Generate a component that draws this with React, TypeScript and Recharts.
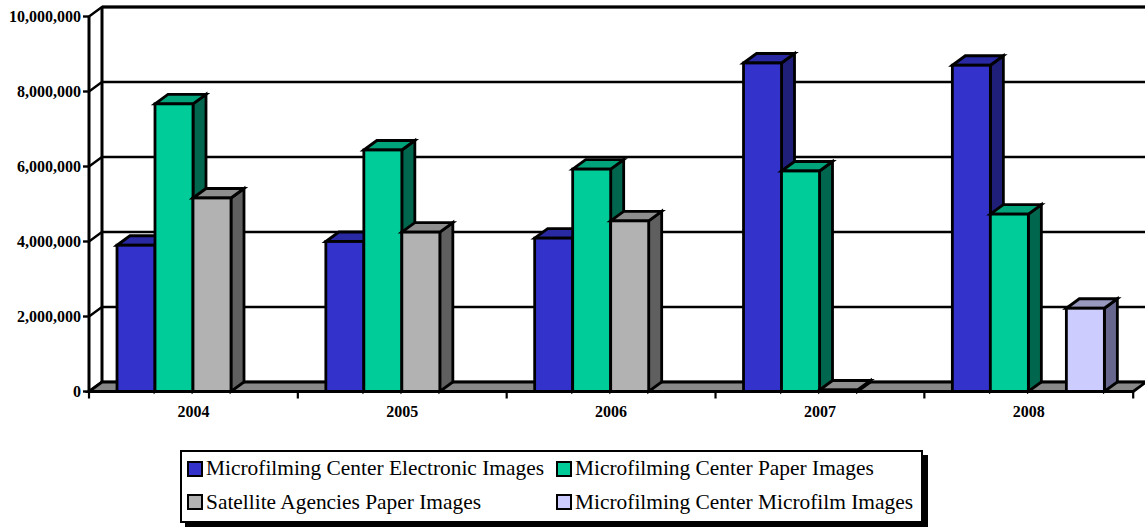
import { BarChart, Bar, XAxis, YAxis, CartesianGrid, Legend, ReferenceArea } from 'recharts';

const years = ['2004', '2005', '2006', '2007', '2008'];
const electronicImages = [3900000, 4000000, 4090000, 8760000, 8700000];
const paperImages = [7670000, 6440000, 5930000, 5880000, 4730000];
const satelliteImages = [5160000, 4250000, 4550000, 40000, null];
const microfilmImages = [null, null, null, null, 2220000];
const yTicks = [0, 2000000, 4000000, 6000000, 8000000, 10000000];

const data = years.map((year, i) => ({
  year,
  electronic: electronicImages[i],
  paper: paperImages[i],
  satellite: satelliteImages[i],
  microfilm: microfilmImages[i],
}));

const WIDTH = 1145;
const HEIGHT = 527;
const LEFT = 89;
const RIGHT = 11.8;
const DX = 13;
const DY = 9.5;
const FONT = '"Liberation Serif", "Times New Roman", serif';
const BAND = (WIDTH - LEFT - RIGHT) / years.length;

// top and side faces of each series
const faces: Record<string, { top: string; side: string }> = {
  '#3333CC': { top: '#2929A3', side: '#1F1F7A' },
  '#00CC99': { top: '#00A37A', side: '#00664D' },
  '#B2B2B2': { top: '#8E8E8E', side: '#5F5F5F' },
  '#CCCCFF': { top: '#9999BF', side: '#66668F' },
};

function Box(props: any) {
  const { x, y, width, height, fill, value } = props;
  const raw = Array.isArray(value) ? value[1] : value;
  if (raw === null || raw === undefined) return null;
  const f = faces[fill];
  return (
    <g stroke="#000" strokeWidth={2.8} strokeLinejoin="miter">
      <path d={`M${x + width},${y} l${DX},${-DY} v${height} l${-DX},${DY} z`} fill={f.side} />
      <path d={`M${x},${y} l${DX},${-DY} h${width} l${-DX},${DY} z`} fill={f.top} />
      <rect x={x} y={y} width={width} height={height} fill={fill} />
    </g>
  );
}

function Walls(props: any) {
  const { x, y, width, height } = props;
  const bottom = y + height;
  return (
    <g stroke="#000">
      <path d={`M${x},${bottom} l${DX},${-DY} H${x + width + DX} l${-DX},${DY} z`} fill="#888888" strokeWidth={2.8} />
      <path d={`M${x + DX},${y - DY} V${bottom - DY}`} strokeWidth={3} fill="none" />
      <path d={`M${x + DX},${y - DY} H${WIDTH}`} strokeWidth={3} fill="none" />
    </g>
  );
}

function BackLine(props: any) {
  const { x1, y1 } = props;
  return (
    <path d={`M${x1},${y1} l${DX},${-DY} H${WIDTH}`} stroke="#000" strokeWidth={2.3} fill="none" />
  );
}

function YearTick(props: any) {
  const { x, y, index, payload } = props;
  const left = x - BAND / 2;
  return (
    <g>
      <line x1={left} y1={y - 8} x2={left} y2={y - 1} stroke="#000" strokeWidth={2.2} />
      {index === years.length - 1 && (
        <line x1={left + BAND} y1={y - 8} x2={left + BAND} y2={y - 1} stroke="#000" strokeWidth={2.2} />
      )}
      <text x={x} y={y + 17} textAnchor="middle" fontFamily={FONT} fontWeight="bold" fontSize={16} fill="#000">
        {payload.value}
      </text>
    </g>
  );
}

function LegendBox({ payload }: any) {
  const items = payload || [];
  return (
    <div
      style={{
        width: 743,
        height: 73,
        boxSizing: 'border-box',
        border: '2px solid #000',
        background: '#fff',
        boxShadow: '5px 5px 0 #000',
        display: 'grid',
        gridTemplateColumns: '369px auto',
        gridAutoRows: '33.5px',
        paddingTop: 0,
        paddingLeft: 5,
        fontFamily: FONT,
        fontSize: 21.4,
        color: '#000',
      }}
    >
      {items.map((item: any) => (
        <div key={item.value} style={{ display: 'flex', alignItems: 'center', whiteSpace: 'nowrap' }}>
          <span
            style={{
              width: 16,
              height: 16,
              boxSizing: 'border-box',
              border: '2.6px solid #000',
              background: item.color,
              marginRight: 3,
            }}
          />
          {item.value}
        </div>
      ))}
    </div>
  );
}

export default function App() {
  return (
    <div style={{ position: 'absolute', left: 0, top: 0, width: WIDTH, height: HEIGHT, background: '#fff' }}>
      <BarChart
        width={WIDTH}
        height={HEIGHT}
        data={data}
        margin={{ top: 16.5, right: RIGHT, left: 0, bottom: 0 }}
        barSize={38}
        barGap={0}
        style={{ overflow: 'visible' }}
      >
        <CartesianGrid vertical={false} horizontal={(p: any) => <BackLine key={p.key} {...p} />} />
        <ReferenceArea y1={0} y2={10000000} ifOverflow="visible" shape={<Walls />} />
        <XAxis
          dataKey="year"
          height={135.5}
          axisLine={{ stroke: '#000', strokeWidth: 3 }}
          tickLine={false}
          tick={<YearTick />}
          interval={0}
        />
        <YAxis
          width={LEFT}
          domain={[0, 10000000]}
          ticks={yTicks}
          interval={0}
          tickFormatter={(value) => Number(value).toLocaleString('en-US')}
          axisLine={{ stroke: '#000', strokeWidth: 3 }}
          tickLine={{ stroke: '#000', strokeWidth: 2.4 }}
          tickSize={6}
          tickMargin={2}
          tick={{ fill: '#000', fontFamily: FONT, fontWeight: 'bold', fontSize: 16 }}
        />
        <Legend
          layout="horizontal"
          verticalAlign="middle"
          align="center"
          itemSorter={null}
          content={<LegendBox />}
          wrapperStyle={{ position: 'absolute', left: 180, top: 450, width: 743 }}
        />
        <Bar dataKey="electronic" name="Microfilming Center Electronic Images" fill="#3333CC" shape={<Box />} isAnimationActive={false} />
        <Bar dataKey="paper" name="Microfilming Center Paper Images" fill="#00CC99" shape={<Box />} isAnimationActive={false} />
        <Bar dataKey="satellite" name="Satellite Agencies Paper Images" fill="#B2B2B2" shape={<Box />} isAnimationActive={false} />
        <Bar dataKey="microfilm" name="Microfilming Center Microfilm Images" fill="#CCCCFF" shape={<Box />} isAnimationActive={false} />
      </BarChart>
    </div>
  );
}
